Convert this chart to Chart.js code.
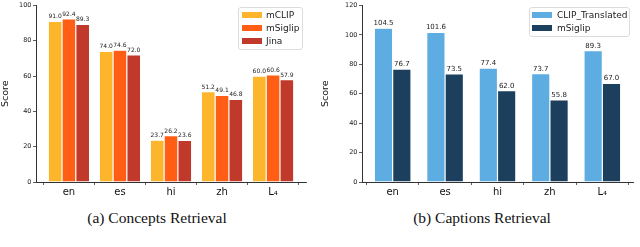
<!DOCTYPE html>
<html>
<head>
<meta charset="utf-8">
<script src="https://cdn.jsdelivr.net/npm/chart.js@4.4.1/dist/chart.umd.min.js"></script>
<style>
  html, body { margin: 0; padding: 0; background: #fff; width: 640px; height: 247px; overflow: hidden; }
  .panel { position: absolute; top: 0; width: 320px; height: 200px; }
  .cap { position: absolute; top: 209px; font-family: "Liberation Serif", "DejaVu Serif", serif; font-size: 15.5px; color: #111; white-space: nowrap; transform: translateX(-50%); }
</style>
</head>
<body>
<div class="panel" style="left:0"><canvas id="c1" width="320" height="200"></canvas></div>
<div class="panel" style="left:320px"><canvas id="c2" width="320" height="200"></canvas></div>
<div class="cap" style="left:157px">(a) Concepts Retrieval</div>
<div class="cap" style="left:482px">(b) Captions Retrieval</div>
<script>
// ---- data ----
const languages = ["en", "es", "hi", "zh", "L\u2084"];
const conceptsSeries = ["mCLIP", "mSiglip", "Jina"];
const conceptsMCLIP = [91.0, 74.0, 23.7, 51.2, 60.0];
const conceptsMSiglip = [92.4, 74.6, 26.2, 49.1, 60.6];
const conceptsJina = [89.3, 72.0, 23.6, 46.8, 57.9];
const captionsSeries = ["CLIP_Translated", "mSiglip"];
const captionsCLIP = [104.5, 101.6, 77.4, 73.7, 89.3];
const captionsMSiglip = [76.7, 73.5, 62.0, 55.8, 67.0];
const conceptsTicks = [0, 20, 40, 60, 80, 100];
const captionsTicks = [0, 20, 40, 60, 80, 100, 120];

const toPoints = arr => arr.map((v, i) => ({ x: i, y: v }));

const valueLabels = {
  id: 'valueLabels',
  afterDatasetsDraw(chart, args, opts) {
    const ctx = chart.ctx;
    ctx.save();
    ctx.font = opts.size + 'px "DejaVu Sans"';
    ctx.fillStyle = '#222';
    ctx.textAlign = 'center';
    ctx.textBaseline = 'alphabetic';
    chart.data.datasets.forEach((ds, i) => {
      const meta = chart.getDatasetMeta(i);
      meta.data.forEach((bar, j) => {
        ctx.fillText(ds.data[j].y.toFixed(1), bar.x, bar.y - opts.gap);
      });
    });
    ctx.restore();
  }
};

const boxLegend = {
  id: 'boxLegend',
  afterDraw(chart, args, o) {
    const ctx = chart.ctx;
    ctx.save();
    const r = 2.5;
    ctx.beginPath();
    ctx.roundRect(o.x + 0.5, o.y + 0.5, o.w, o.h, r);
    ctx.fillStyle = 'rgba(255,255,255,0.85)';
    ctx.fill();
    ctx.strokeStyle = '#dcdcdc';
    ctx.lineWidth = 1;
    ctx.stroke();
    ctx.font = '9px "DejaVu Sans"';
    ctx.textBaseline = 'middle';
    ctx.textAlign = 'left';
    chart.data.datasets.forEach((ds, i) => {
      const cy = o.y + o.first + i * o.step;
      ctx.fillStyle = ds.backgroundColor;
      ctx.fillRect(o.x + o.sx, cy - 3, 20, 6);
      ctx.fillStyle = '#222';
      ctx.fillText(ds.label, o.x + o.tx, cy + 0.5);
    });
    ctx.restore();
  }
};

function makeChart(id, datasets, cfg) {
  return new Chart(document.getElementById(id), {
    type: 'bar',
    data: { datasets },
    plugins: [valueLabels, boxLegend],
    options: {
      responsive: false,
      animation: false,
      parsing: true,
      layout: { padding: { top: 4, right: cfg.rightPad, left: 0, bottom: 0 } },
      datasets: { bar: { categoryPercentage: cfg.catPct, barPercentage: 1.0, grouped: true } },
      plugins: {
        legend: { display: false },
        tooltip: { enabled: false },
        valueLabels: { size: cfg.labelSize, gap: cfg.labelGap },
        boxLegend: cfg.legend
      },
      scales: {
        x: {
          type: 'linear',
          min: cfg.xmin, max: cfg.xmax,
          offset: false,
          afterBuildTicks: s => { s.ticks = languages.map((_, i) => ({ value: i })); },
          afterFit: s => { s.height = 18; },
          ticks: {
            callback: v => languages[v],
            font: { family: 'DejaVu Sans', size: 10 },
            color: '#111', padding: 1, maxRotation: 0, autoSkip: false
          },
          grid: { drawOnChartArea: false, drawTicks: true, tickLength: 3, color: '#333', lineWidth: 0.8 },
          border: { color: '#333', width: 1 }
        },
        y: {
          min: 0, max: cfg.ymax,
          afterBuildTicks: s => { s.ticks = cfg.yTicks.map(v => ({ value: v })); },
          afterFit: s => { s.width = cfg.yWidth; },
          ticks: {
            font: { family: 'DejaVu Sans', size: 6.5 },
            color: '#222', padding: 1.5
          },
          grid: { drawOnChartArea: false, drawTicks: true, tickLength: 3, color: '#333', lineWidth: 0.8 },
          border: { color: '#333', width: 1 },
          title: { display: true, text: 'Score', font: { family: 'DejaVu Sans', size: 9.5 }, color: '#111', padding: { top: 0, bottom: 2 } }
        }
      }
    }
  });
}

const edge = 'rgba(255,255,255,0.55)';
makeChart('c1', [
  { label: conceptsSeries[0], data: toPoints(conceptsMCLIP), backgroundColor: '#FDB52C', borderColor: edge, borderWidth: 0.6 },
  { label: conceptsSeries[1], data: toPoints(conceptsMSiglip), backgroundColor: '#FF5E14', borderColor: edge, borderWidth: 0.6 },
  { label: conceptsSeries[2], data: toPoints(conceptsJina), backgroundColor: '#C0392B', borderColor: edge, borderWidth: 0.6 }
], {
  rightPad: 14, catPct: 0.81, xmin: -0.645, xmax: 4.645, ymax: 100, yTicks: conceptsTicks, yWidth: 36,
  labelSize: 6, labelGap: 3,
  legend: { x: 238, y: 7, w: 64, h: 42, sx: 4, tx: 28, first: 8, step: 13 }
});
makeChart('c2', [
  { label: captionsSeries[0], data: toPoints(captionsCLIP), backgroundColor: '#5DADE2', borderColor: edge, borderWidth: 0.6 },
  { label: captionsSeries[1], data: toPoints(captionsMSiglip), backgroundColor: '#1B3F5C', borderColor: edge, borderWidth: 0.6 }
], {
  rightPad: 7, catPct: 0.7, xmin: -0.585, xmax: 4.585, ymax: 120, yTicks: captionsTicks, yWidth: 42,
  labelSize: 7, labelGap: 3,
  legend: { x: 209, y: 7, w: 100, h: 29, sx: 3, tx: 28, first: 8, step: 13 }
});
</script>
</body>
</html>
